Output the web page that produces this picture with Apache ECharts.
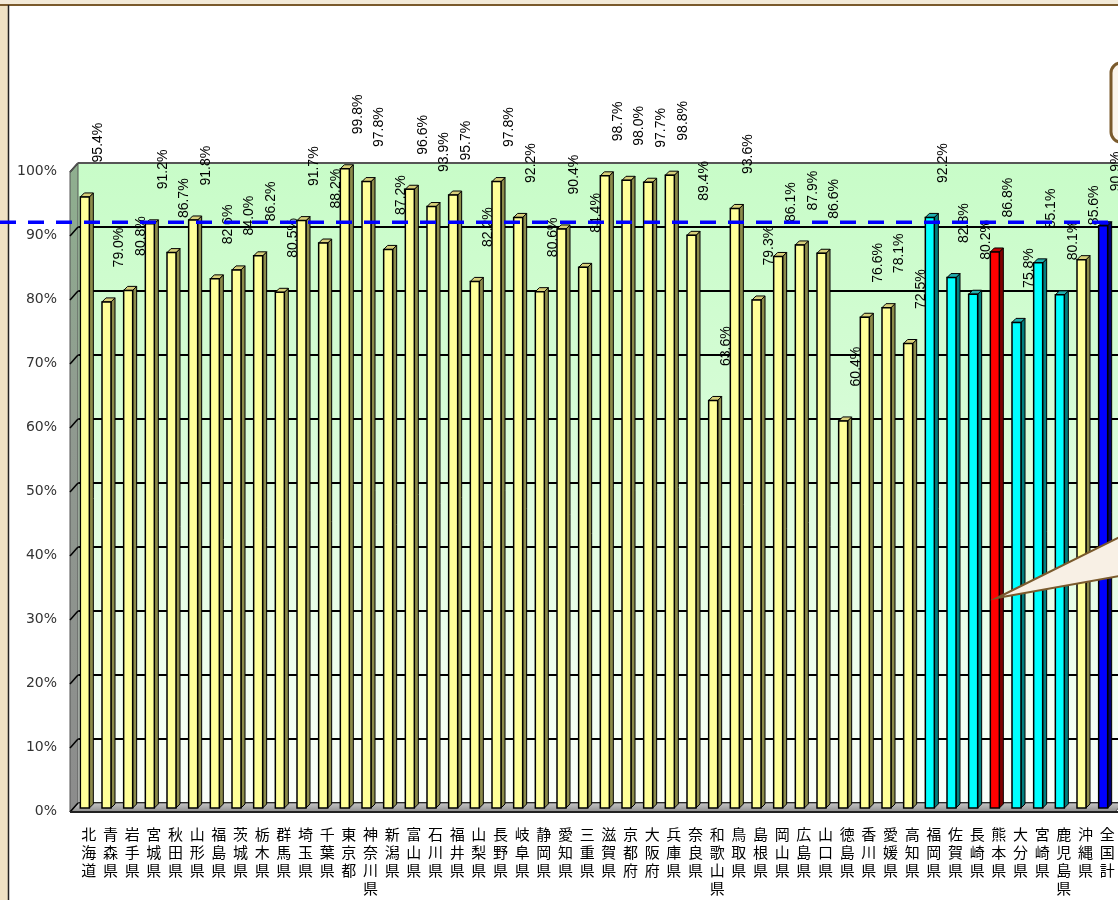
<!DOCTYPE html>
<html>
<head>
<meta charset="UTF-8">
<title>都道府県別</title>
<script src="https://cdn.jsdelivr.net/npm/echarts@6/dist/echarts.min.js"></script>
<style>
  html, body { margin: 0; padding: 0; background: #fff; }
  #main { width: 1118px; height: 900px; }
</style>
</head>
<body>
<div id="main"></div>
<script>
// categories
var prefs = ['北海道','青森県','岩手県','宮城県','秋田県','山形県','福島県','茨城県','栃木県','群馬県',
  '埼玉県','千葉県','東京都','神奈川県','新潟県','富山県','石川県','福井県','山梨県','長野県',
  '岐阜県','静岡県','愛知県','三重県','滋賀県','京都府','大阪府','兵庫県','奈良県','和歌山県',
  '鳥取県','島根県','岡山県','広島県','山口県','徳島県','香川県','愛媛県','高知県','福岡県',
  '佐賀県','長崎県','熊本県','大分県','宮崎県','鹿児島県','沖縄県','全国計'];

// rate (%)
var rates = [95.4, 79.0, 80.8, 91.2, 86.7, 91.8, 82.6, 84.0, 86.2, 80.5,
  91.7, 88.2, 99.8, 97.8, 87.2, 96.6, 93.9, 95.7, 82.2, 97.8,
  92.2, 80.6, 90.4, 84.4, 98.7, 98.0, 97.7, 98.8, 89.4, 63.6,
  93.6, 79.3, 86.1, 87.9, 86.6, 60.4, 76.6, 78.1, 72.5, 92.2,
  82.8, 80.2, 86.8, 75.8, 85.1, 80.1, 85.6, 90.9];

// group of each bar
var groups = ['other','other','other','other','other','other','other','other','other','other',
  'other','other','other','other','other','other','other','other','other','other',
  'other','other','other','other','other','other','other','other','other','other',
  'other','other','other','other','other','other','other','other','other','kyushu',
  'kyushu','kyushu','kumamoto','kyushu','kyushu','kyushu','other','national'];

var nationalAvg = 90.9;
var yTicks = [0, 10, 20, 30, 40, 50, 60, 70, 80, 90, 100];

var palette = {
  other:    { front: '#ffff99', side: '#8c8c4a', top: '#d8d07a' },
  kyushu:   { front: '#00ffff', side: '#008080', top: '#20b0b0' },
  kumamoto: { front: '#ff0000', side: '#800000', top: '#c00000' },
  national: { front: '#0000ff', side: '#000070', top: '#0000b0' }
};

var GL = 78, GT = 163, GW = 1045, GB = 97;
var DX = 8, DY = 9; // 3D depth of wall/floor

var chart = echarts.init(document.getElementById('main'), null, { renderer: 'canvas' });

function renderBar(params, api) {
  var i = api.value(0), v = api.value(1);
  var top = api.coord([i, v]);
  var base = api.coord([i, 0]);
  var pal = palette[groups[params.dataIndex]];
  var w = 9, dx = 4, dy = 4;
  var cx = top[0] - 4;
  var x0 = cx - w / 2, x1 = x0 + w;
  var yTop = top[1] + 4.5, yBot = base[1] + 5;
  return {
    type: 'group',
    children: [
      { type: 'polygon', shape: { points: [[x1, yTop], [x1 + dx, yTop - dy], [x1 + dx, yBot - dy], [x1, yBot]] },
        style: { fill: pal.side, stroke: '#000', lineWidth: 1 } },
      { type: 'polygon', shape: { points: [[x0, yTop], [x0 + dx, yTop - dy], [x1 + dx, yTop - dy], [x1, yTop]] },
        style: { fill: pal.top, stroke: '#000', lineWidth: 1 } },
      { type: 'rect', shape: { x: x0, y: yTop, width: w, height: yBot - yTop },
        style: { fill: pal.front, stroke: '#000', lineWidth: 1.5 } },
      { type: 'text', x: top[0] + 9, y: top[1] - 30, rotation: Math.PI / 2, z2: 20,
        style: { text: v.toFixed(1) + '%', x: 0, y: 0, align: 'left', verticalAlign: 'middle',
          font: '14px "Liberation Sans", Arial, sans-serif', fill: '#000' } }
    ]
  };
}

var option = {
  animation: false,
  backgroundColor: '#ffffff',
  grid: {
    left: GL, top: GT, width: GW, bottom: GB,
    show: true, borderWidth: 0,
    backgroundColor: new echarts.graphic.LinearGradient(0, 0, 0, 1, [
      { offset: 0, color: '#c8fcc8' },
      { offset: 0.35, color: '#d4fcd4' },
      { offset: 1, color: '#fbfffb' }
    ])
  },
  xAxis: {
    type: 'category',
    data: prefs,
    axisLine: { show: false },
    axisTick: { show: false },
    axisLabel: {
      interval: 0,
      margin: 22,
      fontSize: 15,
      lineHeight: 18,
      color: '#000',
      fontFamily: '"Noto Sans CJK JP", sans-serif',
      verticalAlign: 'top',
      formatter: function (s) { return s.split('').join('\n'); }
    }
  },
  yAxis: {
    type: 'value',
    min: 0, max: 100, interval: 10,
    axisLine: { show: false },
    axisTick: { show: false },
    splitLine: { lineStyle: { color: '#000', width: 2 } },
    axisLabel: {
      formatter: '{value}%',
      margin: 21,
      verticalAlign: 'top',
      fontSize: 14,
      lineHeight: 16,
      color: '#333',
      fontFamily: '"DejaVu Sans", sans-serif'
    }
  },
  series: [{
    type: 'custom',
    renderItem: renderBar,
    encode: { x: 0, y: 1 },
    data: rates.map(function (v, i) { return [i, v]; }),
    z: 5
  }]
};

chart.setOption(option);

// walls, floor, average line, callout
var yOf = function (v) { return chart.convertToPixel({ yAxisIndex: 0 }, v); };
var yTopPx = yOf(100), yZero = yOf(0), xR = GL + GW;
var avgY = yOf(nationalAvg);

var g = [];
// page border strips
g.push({ type: 'rect', shape: { x: 0, y: 0, width: 8, height: 900 }, style: { fill: '#efe2c4' }, z: 1 });
g.push({ type: 'rect', shape: { x: 0, y: 0, width: 1118, height: 5 }, style: { fill: '#f3ead8' }, z: 1 });
g.push({ type: 'line', shape: { x1: 0, y1: 5, x2: 1118, y2: 5 }, style: { stroke: '#7a5a2c', lineWidth: 2 }, z: 2 });
g.push({ type: 'line', shape: { x1: 8.5, y1: 5, x2: 8.5, y2: 900 }, style: { stroke: '#222', lineWidth: 1.5 }, z: 2 });
// left wall
g.push({ type: 'polygon', shape: { points: [[GL, yTopPx], [GL - DX, yTopPx + DY], [GL - DX, yZero + DY], [GL, yZero]] },
  style: { fill: new echarts.graphic.LinearGradient(0, 0, 0, 1, [
    { offset: 0, color: '#8fb08f' }, { offset: 0.4, color: '#909a90' }, { offset: 1, color: '#8c8c8c' }]),
    stroke: '#555', lineWidth: 1 }, z: 1 });
yTicks.forEach(function (t) {
  var y = yOf(t);
  g.push({ type: 'line', shape: { x1: GL - DX, y1: y + DY, x2: GL, y2: y }, style: { stroke: '#000', lineWidth: 1.5 }, z: 2 });
});
// floor
g.push({ type: 'polygon', shape: { points: [[GL, yZero], [xR, yZero], [xR - DX, yZero + DY], [GL - DX, yZero + DY]] },
  style: { fill: new echarts.graphic.LinearGradient(0, 0, 0, 1, [
    { offset: 0, color: '#c8c8c8' }, { offset: 1, color: '#8a8a8a' }]), stroke: '#555', lineWidth: 1 }, z: 1 });
g.push({ type: 'line', shape: { x1: GL - DX, y1: yZero + DY, x2: xR, y2: yZero + DY }, style: { stroke: '#222', lineWidth: 2 }, z: 2 });
// top edge of back wall
g.push({ type: 'line', shape: { x1: GL, y1: yTopPx, x2: xR, y2: yTopPx }, style: { stroke: '#555', lineWidth: 2 }, z: 2 });
g.push({ type: 'line', shape: { x1: GL - DX, y1: yTopPx + DY, x2: GL, y2: yTopPx }, style: { stroke: '#555', lineWidth: 1.5 }, z: 2 });
// national average dashed line
g.push({ type: 'line', shape: { x1: 0, y1: avgY + 1, x2: 1118, y2: avgY + 1 },
  style: { stroke: '#0000ff', lineWidth: 3.5, lineDash: [16, 12] }, z: 30 });
// callout (box mostly off to the right) and its tail to 熊本県
var kuma = chart.convertToPixel({ xAxisIndex: 0 }, prefs.indexOf('熊本県'));
g.push({ type: 'rect', shape: { x: 1111, y: 63, width: 60, height: 79, r: 10 },
  style: { fill: '#fbf5ec', stroke: '#7a5a2c', lineWidth: 3 }, z: 30 });
g.push({ type: 'polygon', shape: { points: [[kuma - 2, 598], [1120, 537], [1120, 576]] },
  style: { fill: '#f8f0e5', stroke: '#7a5a2c', lineWidth: 2 }, z: 30 });

chart.setOption({ graphic: { elements: g } });
</script>
</body>
</html>
